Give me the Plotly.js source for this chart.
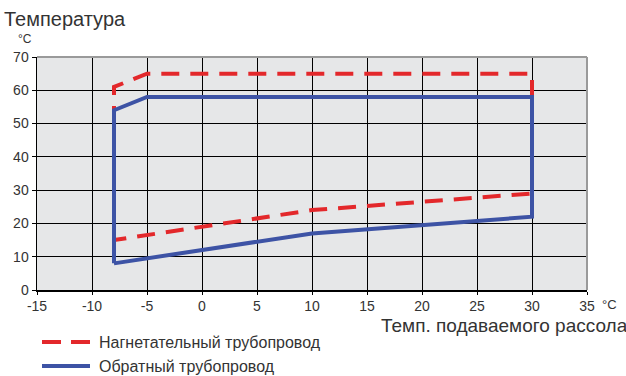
<!DOCTYPE html>
<html>
<head>
<meta charset="utf-8">
<script src="https://cdn.plot.ly/plotly-3.0.1.min.js"></script>
<style>html,body{margin:0;padding:0;background:#fff;}#chart{width:626px;height:376px;}</style>
</head>
<body>
<div id="chart"></div>
<script>
// Data
const seriesNames = ["Нагнетательный трубопровод", "Обратный трубопровод"];
const supplyX = [-8, -8, -5, 30, 30, 10, -8];
const supplyY = [15, 61, 65, 65, 29, 24, 15];
const returnX = [-8, -8, -5, 30, 30, 10, -8];
const returnY = [8, 54, 58, 58, 22, 17, 8];
const xTicks = [-15, -10, -5, 0, 5, 10, 15, 20, 25, 30, 35];
const yTicks = [0, 10, 20, 30, 40, 50, 60, 70];
const yTitle = "Температура";
const unit = "°C";
const xTitle = "Темп. подаваемого рассола";

const RED = "#e3282b";
const BLUE = "#3d53a5";
const FONT = "Liberation Sans, Arial, sans-serif";

const traces = [
  {x: supplyX, y: supplyY, mode: "lines", name: seriesNames[0],
   line: {color: RED, width: 4, dash: "18px,11px"}, showlegend: false, hoverinfo: "skip"},
  {x: returnX, y: returnY, mode: "lines", name: seriesNames[1],
   line: {color: BLUE, width: 4}, showlegend: false, hoverinfo: "skip"}
];

// plot area in pixels: left 37, right 587, top 57, bottom 290
const L = 37, R = 587, T = 57, B = 290;
const px = v => (v - L) / (R - L);
const py = v => (B - v) / (B - T);

const layout = {
  width: 626, height: 376,
  margin: {l: L, r: 626 - R, t: T, b: 376 - B},
  paper_bgcolor: "#ffffff",
  plot_bgcolor: "#e6e7e8",
  font: {family: FONT, size: 14, color: "#333"},
  showlegend: false,
  xaxis: {
    range: [-15, 35], tickvals: xTicks, ticktext: xTicks.map(String),
    showgrid: true, gridcolor: "#000", gridwidth: 1, zeroline: false,
    showline: true, linecolor: "#000", linewidth: 1.5,
    ticks: "outside", ticklen: 3, tickcolor: "#000",
    tickfont: {family: FONT, size: 14, color: "#333"}, fixedrange: true
  },
  yaxis: {
    range: [0, 70], tickvals: yTicks, ticktext: yTicks.map(String),
    showgrid: true, gridcolor: "#000", gridwidth: 1, zeroline: false,
    showline: true, linecolor: "#000", linewidth: 1.5,
    ticks: "outside", ticklen: 4, tickcolor: "#000",
    tickfont: {family: FONT, size: 14, color: "#333"}, fixedrange: true
  },
  shapes: [
    {type: "line", xref: "paper", yref: "paper", x0: 0, x1: 1, y0: 1, y1: 1, line: {color: "#9a9a9a", width: 2}},
    {type: "line", xref: "paper", yref: "paper", x0: 1, x1: 1, y0: 0, y1: 1, line: {color: "#9a9a9a", width: 2}},
    {type: "line", xref: "paper", yref: "paper", x0: px(42), x1: px(90), y0: py(342), y1: py(342), line: {color: RED, width: 4, dash: "19px,10px"}},
    {type: "line", xref: "paper", yref: "paper", x0: px(42), x1: px(90), y0: py(366), y1: py(366), line: {color: BLUE, width: 4}}
  ],
  annotations: [
    {xref: "paper", yref: "paper", x: px(2), y: py(19), xanchor: "left", yanchor: "middle", showarrow: false,
     text: yTitle, font: {family: FONT, size: 20, color: "#333"}},
    {xref: "paper", yref: "paper", x: px(16), y: py(39), xanchor: "left", yanchor: "middle", showarrow: false,
     text: unit, font: {family: FONT, size: 12, color: "#333"}},
    {xref: "paper", yref: "paper", x: px(600), y: py(304), xanchor: "left", yanchor: "middle", showarrow: false,
     text: unit, font: {family: FONT, size: 13, color: "#333"}},
    {xref: "paper", yref: "paper", x: px(379), y: py(325), xanchor: "left", yanchor: "middle", showarrow: false,
     text: xTitle, font: {family: FONT, size: 19, color: "#333"}},
    {xref: "paper", yref: "paper", x: px(97), y: py(342), xanchor: "left", yanchor: "middle", showarrow: false,
     text: seriesNames[0], font: {family: FONT, size: 16, color: "#333"}},
    {xref: "paper", yref: "paper", x: px(97), y: py(366), xanchor: "left", yanchor: "middle", showarrow: false,
     text: seriesNames[1], font: {family: FONT, size: 16, color: "#333"}}
  ]
};

Plotly.newPlot("chart", traces, layout, {displayModeBar: false, staticPlot: true});
</script>
</body>
</html>
